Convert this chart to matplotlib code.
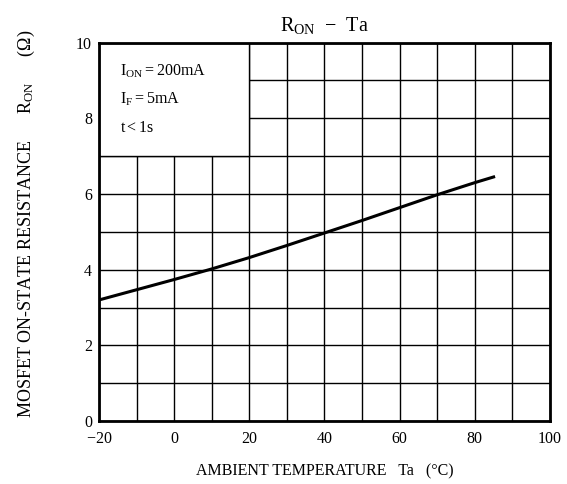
import numpy as np
import matplotlib
matplotlib.use("Agg")
import matplotlib.pyplot as plt
from matplotlib.patches import Rectangle

plt.rcParams['font.family'] = ['Liberation Serif', 'DejaVu Serif']
plt.rcParams['mathtext.fontset'] = 'custom'
plt.rcParams['mathtext.rm'] = 'Liberation Serif'
plt.rcParams['mathtext.it'] = 'Liberation Serif'

# R_ON vs ambient temperature
temp = [-20, -10, 0, 10, 20, 30, 40, 50, 60, 70, 80, 85]
r_on = [3.2, 3.47, 3.74, 4.02, 4.32, 4.64, 4.97, 5.3, 5.64, 5.98, 6.3, 6.45]

x_ticks = [-20, 0, 20, 40, 60, 80, 100]
x_labels = ['$-$20', '0', '20', '40', '60', '80', '100']
y_ticks = [0, 2, 4, 6, 8, 10]

conditions = ['I$_{\\mathrm{ON}}$$=$200mA', 'I$_{\\mathrm{F}}$$=$5mA', 't$<$1s']

fig = plt.figure(figsize=(5.67, 4.84), dpi=100)
ax = fig.add_axes([0.1746, 0.130, 0.7954, 0.782])

ax.set_xlim(-20, 100)
ax.set_ylim(0, 10)
ax.set_xticks(x_ticks)
ax.set_xticklabels(x_labels)
ax.set_yticks(y_ticks)
ax.set_xticks(np.arange(-20, 101, 10), minor=True)
ax.set_yticks(np.arange(0, 11, 1), minor=True)
ax.tick_params(which='both', length=0, labelsize=11.5)
ax.tick_params(axis='x', pad=7)
ax.tick_params(axis='y', pad=5)
ax.grid(which='both', color='black', linewidth=1.0)

for s in ax.spines.values():
    s.set_linewidth(2)

# blank box behind the conditions text
ax.add_patch(Rectangle((-20, 7), 40, 3, facecolor='white', edgecolor='black',
                       linewidth=1.0, zorder=2))

ax.plot(temp, r_on, color='black', linewidth=2.2, zorder=3)

ys = [0.923, 0.849, 0.775]
for t, y in zip(conditions, ys):
    ax.text(0.047, y, t, transform=ax.transAxes, fontsize=11.5,
            va='center', ha='left', zorder=4)

ax.set_title('R$_{\\mathrm{ON}}$  $-$  Ta', fontsize=14.5, pad=8)
ax.set_xlabel('AMBIENT TEMPERATURE   Ta   (\u00b0C)', fontsize=11.5, labelpad=12)
ax.set_ylabel('MOSFET ON-STATE RESISTANCE      R$_{\\mathrm{ON}}$      (\u03a9)',
              fontsize=13)
ax.yaxis.set_label_coords(-0.137, 0.52)

fig.savefig('out.png', dpi=100)
